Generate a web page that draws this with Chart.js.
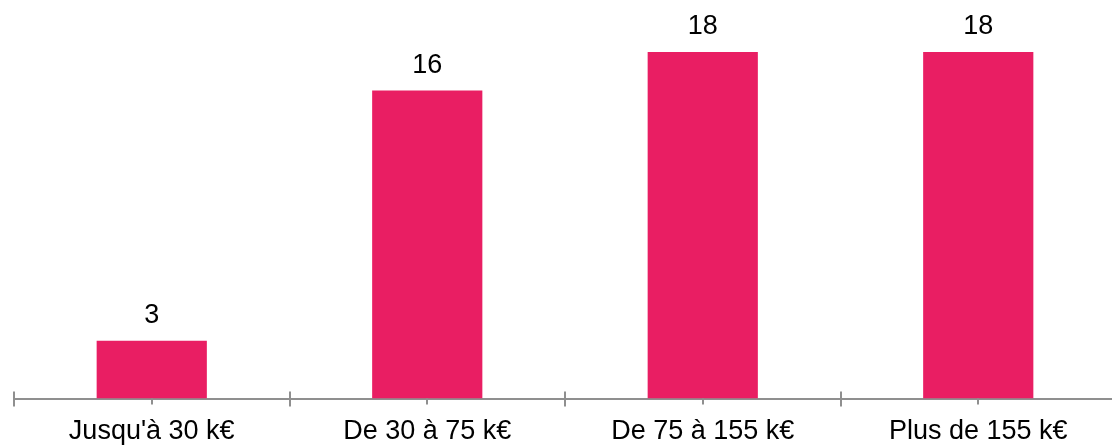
<!DOCTYPE html>
<html>
<head>
<meta charset="utf-8">
<script src="https://cdn.jsdelivr.net/npm/chart.js@4/dist/chart.umd.min.js"></script>
<style>
  html, body { margin: 0; padding: 0; background: #fff; overflow: hidden; }
  #wrap { width: 1120px; height: 457px; }
</style>
</head>
<body>
<div id="wrap"><canvas id="barChart"></canvas></div>
<script>
const categories = ["Jusqu'à 30 k€", 'De 30 à 75 k€', 'De 75 à 155 k€', 'Plus de 155 k€'];
const values = [3, 16, 18, 18];

const axisGrey = '#8f8f8f';
const fontFamily = '"Liberation Sans", Arial, sans-serif';

// valeurs au-dessus des barres + petits repères sur l'axe
const extras = {
  id: 'extras',
  afterDatasetsDraw(chart) {
    const c = chart.ctx;
    const meta = chart.getDatasetMeta(0);
    c.save();
    c.fillStyle = '#000';
    c.font = '27px ' + fontFamily;
    c.textAlign = 'center';
    c.textBaseline = 'alphabetic';
    meta.data.forEach(function(bar, i) {
      c.fillText(values[i], bar.x, bar.y - 18);
    });
    c.restore();
  },
  afterDraw(chart) {
    const c = chart.ctx;
    const x = chart.scales.x;
    const bottom = chart.chartArea.bottom;
    c.save();
    c.strokeStyle = axisGrey;
    c.lineWidth = 2;
    c.beginPath();
    // repères aux limites des catégories (partie haute)
    for (let i = 0; i <= categories.length; i++) {
      const px = Math.round(x.left + i * (x.width / categories.length));
      c.moveTo(px, bottom - 7);
      c.lineTo(px, bottom);
    }
    // repères au centre des catégories
    for (let i = 0; i < categories.length; i++) {
      const px = Math.round(x.getPixelForTick(i));
      c.moveTo(px, bottom);
      c.lineTo(px, bottom + 6);
    }
    c.stroke();
    c.restore();
  }
};

const ctx = document.getElementById('barChart').getContext('2d');
new Chart(ctx, {
  type: 'bar',
  data: {
    labels: categories,
    datasets: [{
      data: values,
      backgroundColor: '#e91e63',
      borderWidth: 0,
      barPercentage: 0.4,
      categoryPercentage: 1
    }]
  },
  options: {
    responsive: true,
    maintainAspectRatio: false,
    animation: false,
    layout: { padding: { left: 14, right: 4, top: 0, bottom: 0 } },
    plugins: {
      legend: { display: false },
      tooltip: { enabled: false }
    },
    scales: {
      x: {
        offset: true,
        grid: {
          display: true,
          offset: true,
          drawOnChartArea: false,
          tickLength: 8,
          color: axisGrey,
          lineWidth: 2
        },
        border: { display: true, color: axisGrey, width: 2 },
        ticks: {
          color: '#000',
          padding: 9,
          maxRotation: 0,
          autoSkip: false,
          font: { family: fontFamily, size: 27 }
        }
      },
      y: {
        display: false,
        min: 0,
        max: 20.7
      }
    }
  },
  plugins: [extras]
});
</script>
</body>
</html>
